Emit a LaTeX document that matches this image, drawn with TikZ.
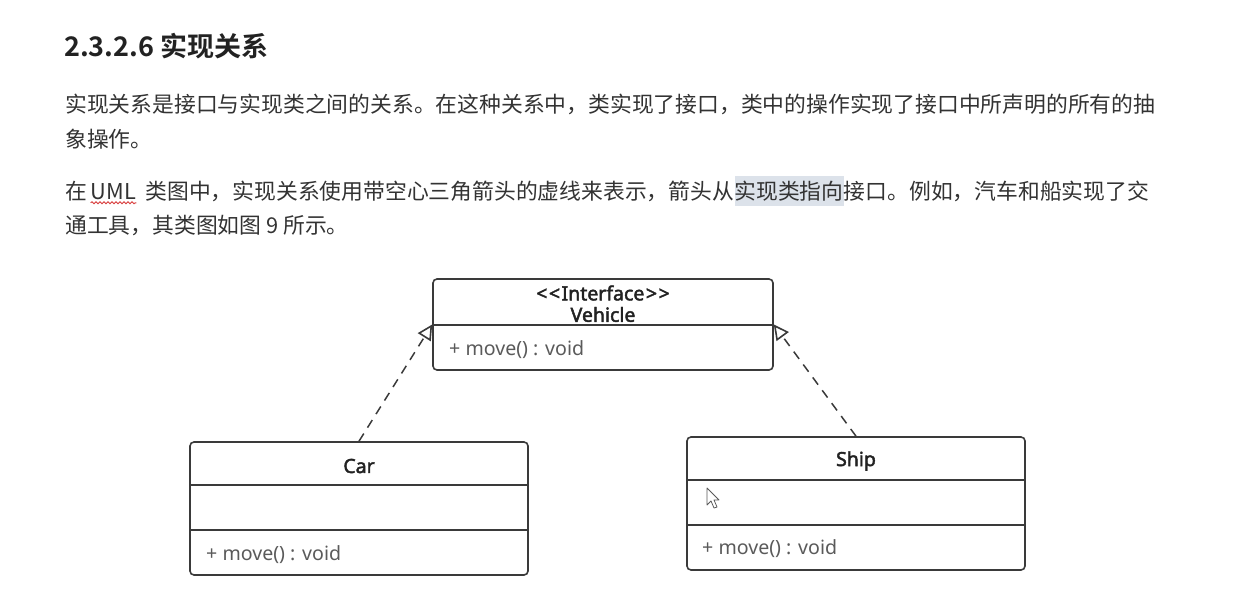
\documentclass[tikz,border=0pt]{standalone}
\usepackage{fontspec}
\usetikzlibrary{arrows.meta,decorations.pathmorphing}
\newfontfamily\cjk{Noto Sans CJK SC}
\newfontfamily\cjkbold{Noto Sans CJK SC Bold}
\newfontfamily\umlf{Noto Sans}
\newfontfamily\umlb{Noto Sans}[FakeBold=2.2]
\definecolor{txt}{HTML}{333333}
\definecolor{head}{HTML}{222222}
\definecolor{linec}{HTML}{3A3A3A}
\definecolor{meth}{HTML}{5A5A5A}
\definecolor{hl}{HTML}{DCE2EA}
\definecolor{wavy}{HTML}{D83A3A}
\tikzset{
  para/.style={anchor=west, inner sep=0pt, text=txt, font=\cjk\fontsize{21.8}{24}\selectfont},
  seg/.style={para, anchor=base west},
  cls/.style={draw=linec, line width=1.6pt, rounded corners=4pt, fill=white, inner sep=0pt, minimum width=338pt, minimum height=133pt},
  divider/.style={draw=linec, line width=1.6pt},
  cname/.style={inner sep=0pt, text=head, font=\umlb\fontsize{19.5}{22}\selectfont},
  cmeth/.style={anchor=west, inner sep=0pt, text=meth, font=\umlf\fontsize{19.6}{22}\selectfont},
  realize/.style={draw=linec, line width=1.5pt, dash pattern=on 9pt off 7pt, -{Triangle[open, length=15pt, width=15pt, line width=1.6pt]}}
}
\begin{document}
\begin{tikzpicture}[x=1pt,y=-1pt]
\useasboundingbox[fill=white] (0,0) rectangle (1247,599);
% text
\node[anchor=west, inner sep=0pt, text=head, font=\cjkbold\fontsize{27}{30}\selectfont] (title) at (64,46) {2.3.2.6 实现关系};
\node[para] (p1a) at (65,104) {实现关系是接口与实现类之间的关系。在这种关系中，类实现了接口，类中的操作实现了接口中所声明的所有的抽};
\node[para] (p1b) at (65,139) {象操作。};
% paragraph 2, line 1 in segments
\node[para] (p2a) at (65,191) {在};
\node[seg] (uml) at ([xshift=3.5pt]p2a.base east) {UML};
\node[seg] (p2c) at ([xshift=9pt]uml.base east) {类图中，实现关系使用带空心三角箭头的虚线来表示，箭头从};
\node[seg, fill=hl, inner ysep=4.5pt] (p2hl) at (p2c.base east) {实现类指向};
\node[seg] (p2d) at (p2hl.base east) {接口。例如，汽车和船实现了交};
\node[para] (p2b) at (65,226) {通工具，其类图如图 9 所示。};
\draw[draw=wavy, line width=0.9pt, decorate, decoration={snake, amplitude=1pt, segment length=4pt}]
  ([yshift=-3pt]uml.south west) -- ([yshift=-3pt]uml.south east);
% classes
\node[cls, minimum width=340pt, minimum height=91pt] (vehicle) at (603,324.5) {};
\draw[divider] ([yshift=-47pt]vehicle.north west) -- ([yshift=-47pt]vehicle.north east);
\node[cname] (vst) at (603,293) {<\kern1.5pt<\kern1.5pt Interface\kern1.5pt>\kern1.5pt>};
\node[cname] (vname) at (603,314.5) {Vehicle};
\node[cmeth] (vm) at (449,350) {+ move() : void};

\node[cls] (car) at (359,508.5) {};
\draw[divider] ([yshift=-44pt]car.north west) -- ([yshift=-44pt]car.north east);
\draw[divider] ([yshift=-89pt]car.north west) -- ([yshift=-89pt]car.north east);
\node[cname] (cname) at (359,466) {Car};
\node[cmeth] (cm) at (206,555) {+ move() : void};

\node[cls] (ship) at (856,503.5) {};
\draw[divider] ([yshift=-44pt]ship.north west) -- ([yshift=-44pt]ship.north east);
\draw[divider] ([yshift=-89pt]ship.north west) -- ([yshift=-89pt]ship.north east);
\node[cname] (sname) at (856,461) {Ship};
\node[cmeth] (sm) at (702,549) {+ move() : void};

% realization connectors
\draw[realize] (car.north) -- (vehicle.west);
\draw[realize] (ship.north) -- (vehicle.east);

% mouse pointer
\draw[draw=meth, fill=white, line width=0.8pt, line join=round]
  (707,488) -- (707,505) -- (711,501) -- (714,508) -- (717,507) -- (714,500) -- (719,500) -- cycle;
\end{tikzpicture}
\end{document}
